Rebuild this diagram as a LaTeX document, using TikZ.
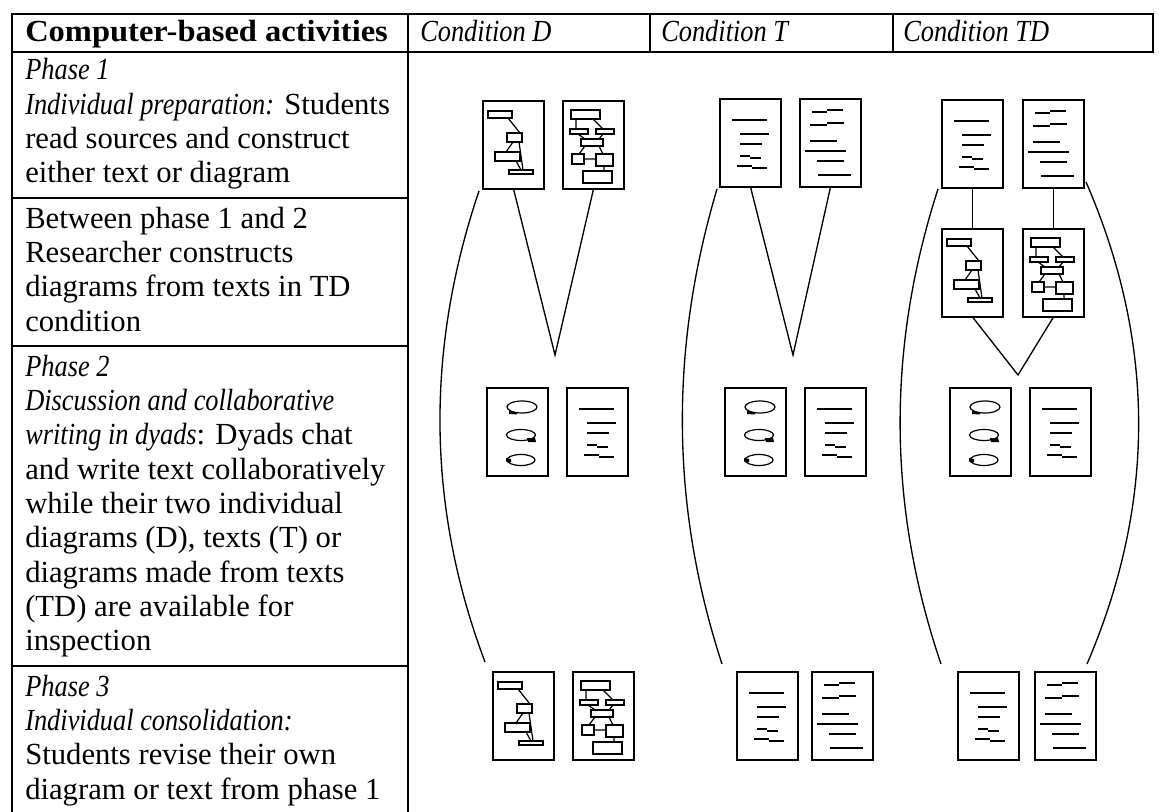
\documentclass[tikz,border=0pt]{standalone}
\usepackage{fontspec}
\setmainfont{Liberation Serif}[ItalicFeatures={FakeStretch=0.86},BoldFeatures={FakeStretch=1.06}]
\newcommand{\tabfont}{\fontsize{23}{25}\selectfont}
\tikzset{
	tabline/.style={line width=1.6pt, line cap=rect},
	cell/.style={anchor=base west, inner sep=0pt, font=\tabfont},
	icon/.style={draw, line width=1.4pt, minimum width=45.75pt, minimum height=66pt, inner sep=0pt, outer sep=0pt, anchor=north west},
	iconline/.style={line width=0.9pt},
	link/.style={line width=1pt},
	diagsimple/.pic={
		\draw[iconline] (5,10) rectangle (29,17) (24,32) rectangle (39,41) (12,51) rectangle (37,60) (26,69) rectangle (50,73);
		\draw[iconline] (25,17) -- (37,32) (30,41) -- (23,51) (36,41) -- (40,69) (33,60) -- (38,69);
	},
	diagfull/.pic={
		\draw[iconline] (8,9) rectangle (37,18) (7,28) rectangle (25,33) (33,28) rectangle (51,33) (18,38) rectangle (40,45);
		\draw[iconline] (9,53) rectangle (21,63) (33,53) rectangle (50,65) (20,70) rectangle (49,82);
		\draw[iconline] (13,18) -- (13,28) (30,18) -- (40,28) (15,33) -- (22,38) (40,33) -- (36,38);
		\draw[iconline] (22,45) -- (16,53) (36,45) -- (40,53) (21,58) -- (33,58) (41,65) -- (41,70);
	},
	texta/.pic={
		\draw[iconline] (12,21) -- (47,21) (20,35) -- (49,35) (20,45) -- (42,45);
		\draw[iconline] (20,57) -- (30,57) (30,59) -- (41,59) (17,67) -- (32,67) (32,69) -- (47,69);
	},
	textb/.pic={
		\draw[iconline] (12,13) -- (27,13) (27,11) -- (43,11) (10,26) -- (27,26) (27,24) -- (44,24);
		\draw[iconline] (10,42) -- (37,42) (5,52) -- (46,52) (17,62) -- (44,62) (18,76) -- (51,76);
	},
	chat/.pic={
		\draw[iconline] (35,19) ellipse [x radius=15, y radius=6] (34,47) ellipse [x radius=14.5, y radius=5.5] (34,72) ellipse [x radius=14, y radius=5.5];
		\fill (22,23) -- (30,24.5) -- (30,26.5) -- (22,26) -- cycle;
		\fill (40,50) -- (48,50) -- (49,54) -- (41,54) -- cycle;
		\fill (19,70) -- (24,71) -- (24,74.5) -- (19,73.5) -- cycle;
	}
}
\begin{document}
\begin{tikzpicture}[x=0.75pt,y=-0.75pt]
	\useasboundingbox (0,0) rectangle (1159,812);
	\draw[tabline] (12,14) -- (1153,14) (12,52) -- (1153,52) (12,14) -- (12,830) (408,14) -- (408,830);
	\draw[tabline] (650,14) -- (650,52) (893,14) -- (893,52) (1153,14) -- (1153,52);
	\draw[tabline] (12,198) -- (408,198) (12,346) -- (408,346) (12,666) -- (408,666);
	\node[cell, font=\bfseries\tabfont] (hdact) at (25,42) {Computer-based activities};
	\node[cell, font=\itshape\tabfont] (hdD) at (420,42) {Condition D};
	\node[cell, font=\itshape\tabfont] (hdT) at (661,42) {Condition T};
	\node[cell, font=\itshape\tabfont] (hdTD) at (903,42) {Condition TD};
	\foreach \txt [count=\i] in {{\textit{Phase 1}},{\textit{Individual preparation:} Students},{read sources and construct},{either text or diagram}}
		\node[cell] (one\i) at (25,{80+(\i-1)*34.3}) {\txt};
	\foreach \txt [count=\i] in {{Between phase 1 and 2},{Researcher constructs},{diagrams from texts in TD},{condition}}
		\node[cell] (two\i) at (25,{228.2+(\i-1)*34.3}) {\txt};
	\foreach \txt [count=\i] in {{\textit{Phase 2}},{\textit{Discussion and collaborative}},{\textit{writing in dyads}: Dyads chat},{and write text collaboratively},{while their two individual},{diagrams (D), texts (T) or},{diagrams made from texts},{(TD) are available for},{inspection}}
		\node[cell] (three\i) at (25,{376.4+(\i-1)*34.3}) {\txt};
	\foreach \txt [count=\i] in {{\textit{Phase 3}},{\textit{Individual consolidation:}},{Students revise their own},{diagram or text from phase 1}}
		\node[cell] (four\i) at (25,{696.1+(\i-1)*34.3}) {\txt};
	\node[icon] (d1a) at (483,101) {};
	\node[icon] (d1b) at (563,101) {};
	\node[icon] (d2a) at (487,388) {};
	\node[icon] (d2b) at (567,388) {};
	\node[icon] (d3a) at (493,672) {};
	\node[icon] (d3b) at (573,672) {};
	\node[icon] (t1a) at (720,99) {};
	\node[icon] (t1b) at (800,99) {};
	\node[icon] (t2a) at (725,388) {};
	\node[icon] (t2b) at (805,388) {};
	\node[icon] (t3a) at (737,672) {};
	\node[icon] (t3b) at (812,672) {};
	\node[icon] (x1a) at (942,100) {};
	\node[icon] (x1b) at (1023,100) {};
	\node[icon] (x2a) at (942,229) {};
	\node[icon] (x2b) at (1023,229) {};
	\node[icon] (x3a) at (950,388) {};
	\node[icon] (x3b) at (1030,388) {};
	\node[icon] (x4a) at (958,672) {};
	\node[icon] (x4b) at (1035,672) {};
	\pic at (d1a.north west) {diagsimple};
	\pic at (d1b.north west) {diagfull};
	\pic at (d2a.north west) {chat};
	\pic at (d2b.north west) {texta};
	\pic at (d3a.north west) {diagsimple};
	\pic at (d3b.north west) {diagfull};
	\pic at (t1a.north west) {texta};
	\pic at (t1b.north west) {textb};
	\pic at (t2a.north west) {chat};
	\pic at (t2b.north west) {texta};
	\pic at (t3a.north west) {texta};
	\pic at (t3b.north west) {textb};
	\pic at (x1a.north west) {texta};
	\pic at (x1b.north west) {textb};
	\pic at (x2a.north west) {diagsimple};
	\pic at (x2b.north west) {diagfull};
	\pic at (x3a.north west) {chat};
	\pic at (x3b.north west) {texta};
	\pic at (x4a.north west) {texta};
	\pic at (x4b.north west) {textb};
	\coordinate (vD) at (555,355);
	\coordinate (vT) at (793,355);
	\coordinate (vTD) at (1018,375);
	\draw[link] (d1a.south) -- (vD) -- (d1b.south);
	\draw[link] (t1a.south) -- (vT) -- (t1b.south);
	\draw[link] (x1a.south) -- (x2a.north) (x1b.south) -- (x2b.north);
	\draw[link] (x2a.south) -- (vTD) -- (x2b.south);
	\draw[link] ([shift={(-4,2)}]d1a.south west) .. controls (426,348) and (426,505) .. ([shift={(-8,-10)}]d3a.north west);
	\draw[link] ([shift={(-3,2)}]t1a.south west) .. controls (670,347) and (670,505) .. ([shift={(-15,-8)}]t3a.north west);
	\draw[link] ([shift={(-4,1)}]x1a.south west) .. controls (887,347) and (887,505) .. ([shift={(-17,-8)}]x4a.north west);
	\draw[link] ([shift={(2,-6)}]x1b.south east) .. controls (1156,343) and (1156,503) .. ([shift={(-9,-8)}]x4b.north east);
\end{tikzpicture}
\end{document}
